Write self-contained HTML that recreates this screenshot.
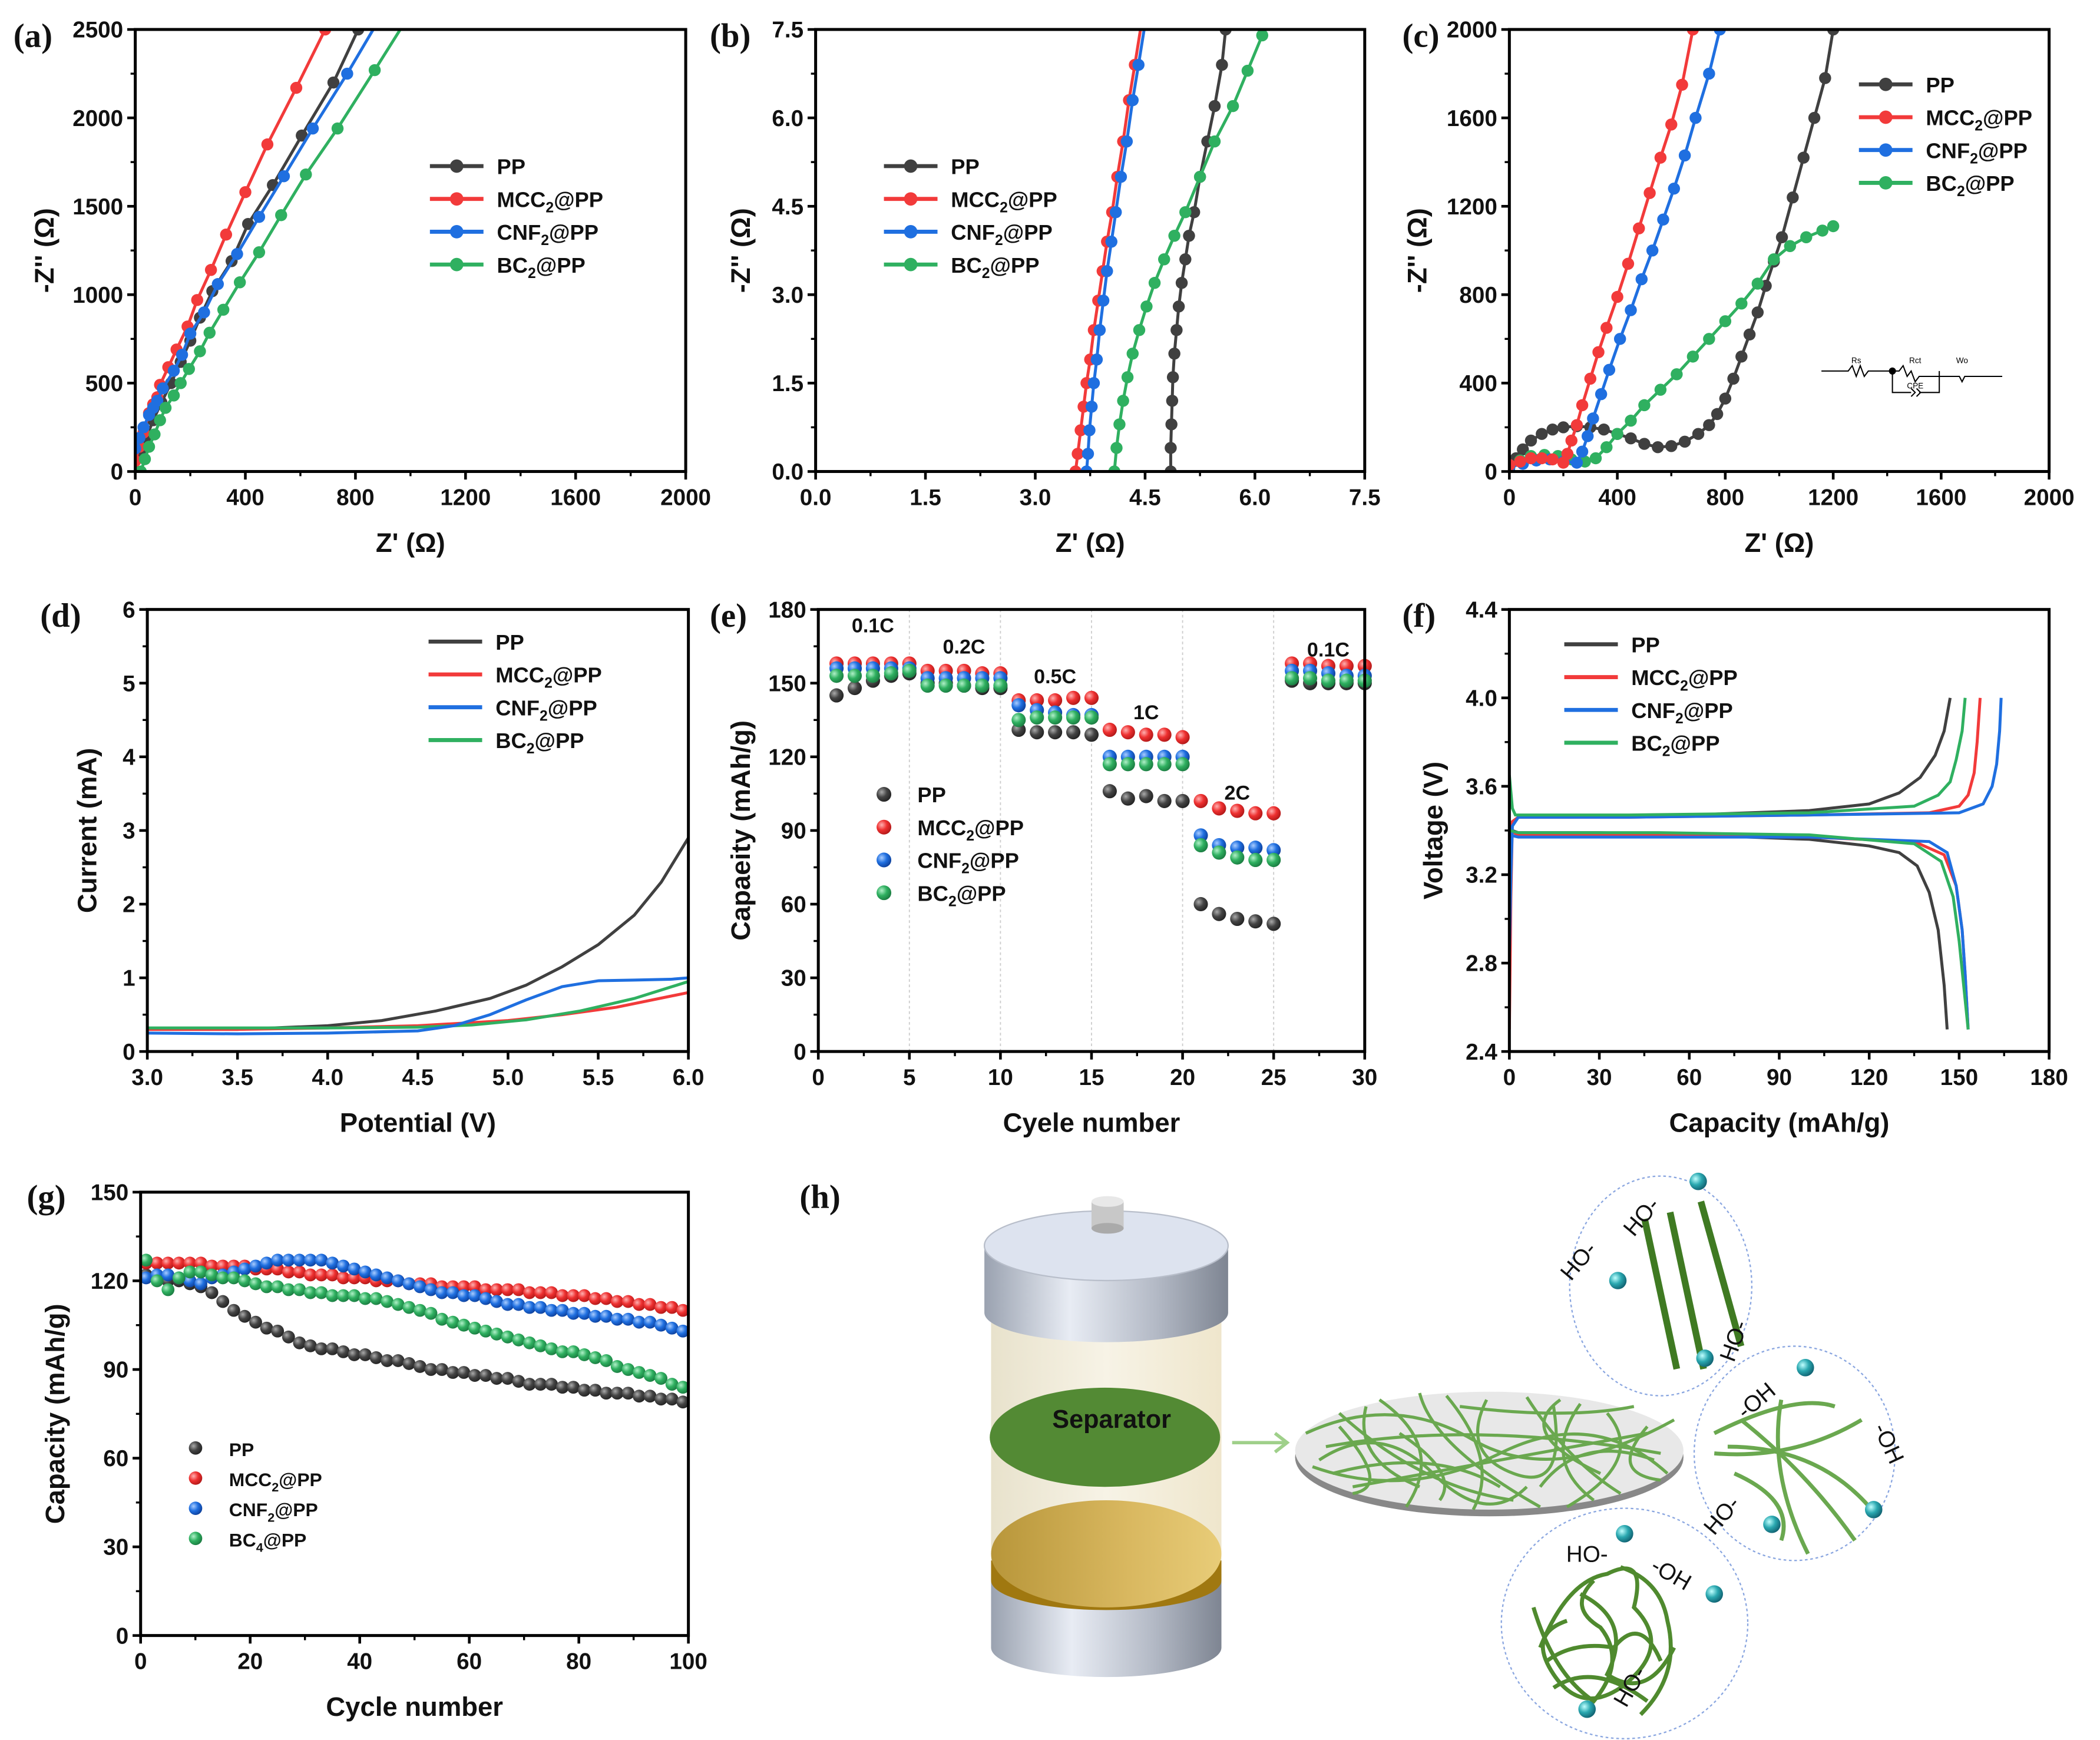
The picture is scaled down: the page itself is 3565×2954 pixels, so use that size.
<!DOCTYPE html>
<html><head><meta charset="utf-8"><style>
html,body{margin:0;padding:0;background:#fff;}
svg{display:block;font-family:"Liberation Sans",sans-serif;}
</style></head><body>
<svg id="fig" xmlns="http://www.w3.org/2000/svg" width="3565" height="2954" viewBox="0 0 1568 1299" preserveAspectRatio="none">
<defs>
<radialGradient id="gPP" cx="0.35" cy="0.35" r="0.7"><stop offset="0" stop-color="#aaa"/><stop offset="0.5" stop-color="#444"/><stop offset="1" stop-color="#222"/></radialGradient>
<radialGradient id="gMCC" cx="0.35" cy="0.35" r="0.7"><stop offset="0" stop-color="#ffb0b0"/><stop offset="0.5" stop-color="#ee3030"/><stop offset="1" stop-color="#b01818"/></radialGradient>
<radialGradient id="gCNF" cx="0.35" cy="0.35" r="0.7"><stop offset="0" stop-color="#a8ccff"/><stop offset="0.5" stop-color="#1f6fe0"/><stop offset="1" stop-color="#0d3f9a"/></radialGradient>
<radialGradient id="gBC" cx="0.35" cy="0.35" r="0.7"><stop offset="0" stop-color="#b0f0c8"/><stop offset="0.5" stop-color="#2fb060"/><stop offset="1" stop-color="#1a7a40"/></radialGradient>
<radialGradient id="gIon" cx="0.35" cy="0.35" r="0.7"><stop offset="0" stop-color="#c0ffff"/><stop offset="0.5" stop-color="#2aa8b0"/><stop offset="1" stop-color="#106070"/></radialGradient>
<linearGradient id="gMetal" x1="0" x2="1"><stop offset="0" stop-color="#9aa2b0"/><stop offset="0.35" stop-color="#e8ecf4"/><stop offset="0.7" stop-color="#b4bac6"/><stop offset="1" stop-color="#7e8592"/></linearGradient>
<linearGradient id="gGlass" x1="0" x2="1"><stop offset="0" stop-color="#e8e2cc"/><stop offset="0.5" stop-color="#f7f3e6"/><stop offset="1" stop-color="#efe6cc"/></linearGradient>
<linearGradient id="gGold" x1="0" x2="1"><stop offset="0" stop-color="#b8963a"/><stop offset="0.6" stop-color="#d9b860"/><stop offset="1" stop-color="#e8cc78"/></linearGradient>
</defs>
<g id="root"></g>
</svg>
<script>
// ---------- DATA ----------
// (a)
const aPPx=[0,20,40,65,95,130,165,200,235,280,350,410,500,605,720,810];
const aPPy=[0,100,190,290,390,500,620,740,870,1020,1190,1400,1620,1900,2200,2500];
const aMCCx=[0,15,30,50,65,80,90,120,150,190,225,275,330,400,480,585,690];
const aMCCy=[60,140,220,330,380,420,490,590,690,820,970,1140,1340,1580,1850,2170,2500];
const aCNFx=[0,15,30,50,65,80,100,140,170,200,250,300,370,450,540,645,770,876];
const aCNFy=[130,190,250,320,360,400,470,570,660,780,900,1060,1230,1440,1670,1940,2250,2530];
const aBCx=[20,35,50,70,90,110,140,165,195,235,270,320,380,450,530,620,735,870,975];
const aBCy=[0,70,140,210,290,360,430,500,580,680,785,915,1070,1240,1450,1680,1940,2270,2530];
// (b)
const bPPx=[4.85,4.85,4.86,4.87,4.88,4.9,4.93,4.96,5.0,5.05,5.1,5.17,5.25,5.35,5.45,5.55,5.6];
const bPPy=[0,0.4,0.8,1.2,1.6,2.0,2.4,2.8,3.2,3.6,4.0,4.4,5.0,5.6,6.2,6.9,7.5];
const bMCCx=[3.55,3.58,3.62,3.66,3.7,3.75,3.8,3.86,3.92,3.98,4.05,4.12,4.2,4.28,4.36,4.45];
const bMCCy=[0,0.3,0.7,1.1,1.5,1.9,2.4,2.9,3.4,3.9,4.4,5.0,5.6,6.3,6.9,7.6];
const bCNFx=[3.7,3.72,3.74,3.77,3.8,3.84,3.88,3.93,3.98,4.04,4.1,4.17,4.25,4.33,4.41,4.5];
const bCNFy=[0,0.3,0.7,1.1,1.5,1.9,2.4,2.9,3.4,3.9,4.4,5.0,5.6,6.3,6.9,7.6];
const bBCx=[4.08,4.11,4.15,4.2,4.26,4.33,4.42,4.52,4.63,4.76,4.9,5.05,5.25,5.45,5.7,5.9,6.1];
const bBCy=[0,0.4,0.8,1.2,1.6,2.0,2.4,2.8,3.2,3.6,4.0,4.4,5.0,5.6,6.2,6.8,7.4];
// (c)
const cPPx=[0,25,50,80,120,160,200,250,300,350,400,450,500,550,600,650,700,740,770,800,830,860,890,920,950,980,1010,1050,1090,1130,1170,1200];
const cPPy=[0,60,100,140,170,190,200,205,200,190,170,150,125,110,115,135,170,210,260,330,420,520,620,720,840,950,1060,1240,1420,1600,1780,2000];
const cMCCx=[0,40,80,120,160,200,215,230,250,270,300,330,360,400,440,480,520,560,600,640,680];
const cMCCy=[30,45,60,60,55,40,80,140,210,300,420,540,650,790,940,1100,1260,1420,1570,1750,2000];
const cCNFx=[0,50,100,150,200,250,270,290,310,340,370,410,450,490,530,570,610,650,690,740,780];
const cCNFy=[20,35,50,55,45,40,90,160,240,350,460,600,730,870,1000,1140,1280,1430,1600,1800,2000];
const cBCx=[0,40,80,130,180,230,280,320,360,400,450,500,560,620,680,740,800,860,920,980,1040,1100,1160,1200];
const cBCy=[20,50,70,75,70,55,45,60,110,170,230,300,370,440,520,600,680,760,850,960,1020,1060,1090,1110];
// (d)
const dPPx=[3.0,3.5,4.0,4.3,4.6,4.9,5.1,5.3,5.5,5.7,5.85,6.0];
const dPPy=[0.3,0.3,0.35,0.42,0.55,0.72,0.9,1.15,1.45,1.85,2.3,2.9];
const dMCCx=[3.0,3.5,4.0,4.5,5.0,5.3,5.6,6.0];
const dMCCy=[0.3,0.3,0.32,0.35,0.42,0.5,0.6,0.8];
const dCNFx=[3.0,3.5,4.0,4.5,4.7,4.9,5.1,5.3,5.5,5.7,5.9,6.0];
const dCNFy=[0.25,0.24,0.25,0.28,0.35,0.5,0.7,0.88,0.96,0.97,0.98,1.0];
const dBCx=[3.0,3.5,4.0,4.5,4.8,5.1,5.4,5.7,6.0];
const dBCy=[0.32,0.32,0.32,0.33,0.36,0.43,0.55,0.72,0.95];
// (e)
const eCycles=[1,2,3,4,5,6,7,8,9,10,11,12,13,14,15,16,17,18,19,20,21,22,23,24,25,26,27,28,29,30];
const ePP=[145,148,151,153,154,150,150,149,148,148,131,130,130,130,129,106,103,104,102,102,60,56,54,53,52,151,150,150,150,150];
const eMCC=[158,158,158,158,158,155,155,155,154,154,143,143,143,144,144,131,130,129,129,128,102,99,98,97,97,158,158,157,157,157];
const eCNF=[156,156,156,156,156,152,152,152,152,152,141,139,138,137,137,120,120,120,120,120,88,84,83,83,82,155,155,154,153,153];
const eBC=[153,153,153,154,155,149,149,149,149,149,135,136,136,136,136,117,117,117,117,117,84,81,79,78,78,152,152,151,151,151];
const eRates=["0.1C","0.2C","0.5C","1C","2C","0.1C"];
// (f)
const fPPcx=[0,0.5,1,3,20,60,100,120,130,137,142,145,147];
const fPPcy=[2.9,3.3,3.44,3.46,3.46,3.47,3.49,3.52,3.57,3.64,3.74,3.85,4.0];
const fPPdx=[0,1,3,30,60,100,120,130,136,140,143,145,146];
const fPPdy=[3.42,3.4,3.39,3.39,3.38,3.36,3.33,3.3,3.24,3.12,2.95,2.7,2.5];
const fMCCcx=[0,0.5,1,3,40,100,140,150,153,155,156,157];
const fMCCcy=[2.5,3.1,3.44,3.46,3.46,3.47,3.48,3.51,3.56,3.66,3.8,4.0];
const fMCCdx=[0,3,50,100,135,145,149,151,152,153];
const fMCCdy=[3.4,3.38,3.38,3.37,3.35,3.29,3.15,2.95,2.75,2.5];
const fCNFcx=[0,0.5,1,3,40,100,150,158,161,162.5,163.5,164];
const fCNFcy=[2.85,3.2,3.42,3.46,3.46,3.47,3.48,3.52,3.6,3.7,3.85,4.0];
const fCNFdx=[0,3,50,100,140,146,149,151,152,153];
const fCNFdy=[3.38,3.37,3.37,3.37,3.35,3.3,3.15,2.95,2.75,2.5];
const fBCcx=[0,1,2,40,100,135,143,147,149,151,152];
const fBCcy=[3.65,3.5,3.47,3.47,3.48,3.51,3.56,3.62,3.72,3.85,4.0];
const fBCdx=[0,3,50,100,135,144,148,150,151.5,153];
const fBCdy=[3.4,3.39,3.39,3.38,3.34,3.26,3.1,2.9,2.7,2.5];
// (g)
const gCycles=[1,3,5,7,9,11,13,15,17,19,21,23,25,27,29,31,33,35,37,39,41,43,45,47,49,51,53,55,57,59,61,63,65,67,69,71,73,75,77,79,81,83,85,87,89,91,93,95,97,99];
const gPP=[122,121,120,120,119,118,116,113,110,108,106,104,103,101,99,98,97,97,96,95,95,94,93,93,92,91,90,90,89,89,88,88,87,87,86,85,85,85,84,84,83,83,82,82,82,81,81,80,80,79];
const gMCC=[126,126,126,126,126,126,125,125,125,125,124,124,124,123,123,122,122,122,121,121,121,120,120,120,119,119,119,118,118,118,118,117,117,117,117,116,116,116,115,115,115,114,114,113,113,112,112,111,111,110];
const gCNF=[121,122,122,121,120,119,121,122,123,124,125,126,127,127,127,127,127,126,125,124,123,122,121,120,119,118,117,116,116,115,115,114,113,112,112,111,111,110,110,109,109,108,108,107,107,106,106,105,104,103];
const gBC=[127,120,117,121,123,123,122,121,121,120,119,118,118,117,117,116,116,115,115,115,114,114,113,112,111,110,109,107,106,105,104,103,102,101,100,99,98,97,96,96,95,94,93,91,90,89,88,87,85,84];

// ---------- helpers ----------
const NS="http://www.w3.org/2000/svg";
const root=document.getElementById('root');
const COL={PP:"#404040",MCC:"#f23a3a",CNF:"#1f6fe0",BC:"#2fb060"};
function el(tag,attrs,parent){const e=document.createElementNS(NS,tag);for(const k in attrs)e.setAttribute(k,attrs[k]);(parent||root).appendChild(e);return e;}
function txt(s,x,y,size,anchor,parent,extra){const t=el('text',Object.assign({x:x,y:y,'font-size':size,'font-weight':'bold','text-anchor':anchor||'middle',fill:'#111'},extra||{}),parent);t.textContent=s;return t;}
function labelSub(parent,x,y,size,base,sub,rest){
  const t=el('text',{x:x,y:y,'font-size':size,'font-weight':'bold',fill:'#111'},parent);
  t.appendChild(document.createTextNode(base));
  if(sub){const s=el('tspan',{dy:4,'font-size':size*0.68},t);s.textContent=sub;const r=el('tspan',{dy:-4},t);r.textContent=rest;}
  return t;
}
function makeAxes(cfg){
  const g=el('g',{});
  
  
  const sx=v=>cfg.x0+(v-cfg.xmin)/(cfg.xmax-cfg.xmin)*(cfg.x1-cfg.x0);
  const sy=v=>cfg.y1-(v-cfg.ymin)/(cfg.ymax-cfg.ymin)*(cfg.y1-cfg.y0);
  const xt=el('g',{},g);
  cfg.xticks.forEach((v,i)=>{const X=sx(v);el('line',{x1:X,x2:X,y1:cfg.y1,y2:cfg.y1+6,stroke:'#000','stroke-width':2},xt);
    txt(cfg.xlabels[i],X,cfg.y1+25,17,'middle',xt);
    if(i<cfg.xticks.length-1){const m=sx((v+cfg.xticks[i+1])/2);el('line',{x1:m,x2:m,y1:cfg.y1,y2:cfg.y1+3.5,stroke:'#000','stroke-width':1.5},xt);}});
  const yt=el('g',{},g);
  cfg.yticks.forEach((v,i)=>{const Y=sy(v);el('line',{x1:cfg.x0-6,x2:cfg.x0,y1:Y,y2:Y,stroke:'#000','stroke-width':2},yt);
    txt(cfg.ylabels[i],cfg.x0-9,Y+6,17,'end',yt);
    if(i<cfg.yticks.length-1){const m=sy((v+cfg.yticks[i+1])/2);el('line',{x1:cfg.x0-3.5,x2:cfg.x0,y1:m,y2:m,stroke:'#000','stroke-width':1.5},yt);}});
  const xtl=txt(cfg.xtitle,(cfg.x0+cfg.x1)/2,cfg.y1+60,20,'middle',g);
  
  const ytl=txt(cfg.ytitle,0,0,20,'middle',g,{transform:`translate(${cfg.ytx},${(cfg.y0+cfg.y1)/2}) rotate(-90)`});
  
  const pl=el('text',{x:cfg.plx,y:cfg.ply,'font-size':25,'font-weight':'bold','font-family':'"Liberation Serif",serif',fill:'#111'},g);
  pl.textContent=cfg.panel;
  
  const plot=el('g',{},g);
  return {g,plot,sx,sy,frame:()=>{const f=el('rect',{x:cfg.x0,y:cfg.y0,width:cfg.x1-cfg.x0,height:cfg.y1-cfg.y0,fill:'none',stroke:'#000','stroke-width':2.2},g);}};
}
function clipFor(id,cfg){const c=el('clipPath',{id:id});el('rect',{x:cfg.x0,y:cfg.y0,width:cfg.x1-cfg.x0,height:cfg.y1-cfg.y0},c);return 'url(#'+id+')';}
function lineSeries(ax,xs,ys,color,name,marker,r,clip){
  const s=el('g',{'clip-path':clip||''},ax.plot);
  
  
  const pts=xs.map((x,i)=>ax.sx(x)+','+ax.sy(ys[i])).join(' ');
  el('polyline',{points:pts,fill:'none',stroke:color,'stroke-width':2.2},s);
  if(marker)xs.forEach((x,i)=>el('circle',{cx:ax.sx(x),cy:ax.sy(ys[i]),r:r||4,fill:color},s));
}
function legendLines(x,y,dy,items,marker,size){
  const g=el('g',{});
  
  
  items.forEach((it,i)=>{const Y=y+i*dy;
    el('line',{x1:x,x2:x+40,y1:Y,y2:Y,stroke:it.c,'stroke-width':3},g);
    if(marker)el('circle',{cx:x+20,cy:Y,r:5,fill:it.c},g);
    labelSub(g,x+50,Y+6,size||16,it.b,it.s,it.r);});
}
function legendDots(x,y,dy,items,size,r){
  const g=el('g',{});
  
  
  items.forEach((it,i)=>{const Y=y+i*dy;
    el('circle',{cx:x,cy:Y,r:r,fill:it.g},g);
    labelSub(g,x+25,Y+6,size,it.b,it.s,it.r);});
}
const LEG=[{c:COL.PP,g:'url(#gPP)',b:'PP'},{c:COL.MCC,g:'url(#gMCC)',b:'MCC',s:'2',r:'@PP'},{c:COL.CNF,g:'url(#gCNF)',b:'CNF',s:'2',r:'@PP'},{c:COL.BC,g:'url(#gBC)',b:'BC',s:'2',r:'@PP'}];

// ---------- (a) ----------
(function(){
 const cfg={name:'panel-a',x0:101,x1:512,y0:22,y1:352,xmin:0,xmax:2000,ymin:0,ymax:2500,
  xticks:[0,400,800,1200,1600,2000],xlabels:['0','400','800','1200','1600','2000'],
  yticks:[0,500,1000,1500,2000,2500],ylabels:['0','500','1000','1500','2000','2500'],
  xtitle:"Z' (Ω)",ytitle:"-Z'' (Ω)",ytx:40,panel:'(a)',plx:10,ply:35};
 const ax=makeAxes(cfg);const cp=clipFor('ca',cfg);
 lineSeries(ax,aPPx,aPPy,COL.PP,'series-pp',true,4.5,cp);
 lineSeries(ax,aMCCx,aMCCy,COL.MCC,'series-mcc2-pp',true,4.5,cp);
 lineSeries(ax,aCNFx,aCNFy,COL.CNF,'series-cnf2-pp',true,4.5,cp);
 lineSeries(ax,aBCx,aBCy,COL.BC,'series-bc2-pp',true,4.5,cp);
 ax.frame();
 legendLines(321,124,24.5,LEG,true,16);
})();
// ---------- (b) ----------
(function(){
 const cfg={name:'panel-b',x0:609,x1:1019,y0:22,y1:352,xmin:0,xmax:7.5,ymin:0,ymax:7.5,
  xticks:[0,1.5,3,4.5,6,7.5],xlabels:['0.0','1.5','3.0','4.5','6.0','7.5'],
  yticks:[0,1.5,3,4.5,6,7.5],ylabels:['0.0','1.5','3.0','4.5','6.0','7.5'],
  xtitle:"Z' (Ω)",ytitle:"-Z'' (Ω)",ytx:560,panel:'(b)',plx:530,ply:35};
 const ax=makeAxes(cfg);const cp=clipFor('cb',cfg);
 lineSeries(ax,bPPx,bPPy,COL.PP,'series-pp',true,4.5,cp);
 lineSeries(ax,bBCx,bBCy,COL.BC,'series-bc2-pp',true,4.5,cp);
 lineSeries(ax,bMCCx,bMCCy,COL.MCC,'series-mcc2-pp',true,4.5,cp);
 lineSeries(ax,bCNFx,bCNFy,COL.CNF,'series-cnf2-pp',true,4.5,cp);
 ax.frame();
 legendLines(660,124,24.5,LEG,true,16);
})();
// ---------- (c) ----------
(function(){
 const cfg={name:'panel-c',x0:1127,x1:1530,y0:22,y1:352,xmin:0,xmax:2000,ymin:0,ymax:2000,
  xticks:[0,400,800,1200,1600,2000],xlabels:['0','400','800','1200','1600','2000'],
  yticks:[0,400,800,1200,1600,2000],ylabels:['0','400','800','1200','1600','2000'],
  xtitle:"Z' (Ω)",ytitle:"-Z'' (Ω)",ytx:1065,panel:'(c)',plx:1047,ply:35};
 const ax=makeAxes(cfg);const cp=clipFor('cc',cfg);
 lineSeries(ax,cPPx,cPPy,COL.PP,'series-pp',true,4.5,cp);
 lineSeries(ax,cBCx,cBCy,COL.BC,'series-bc2-pp',true,4.5,cp);
 lineSeries(ax,cCNFx,cCNFy,COL.CNF,'series-cnf2-pp',true,4.5,cp);
 lineSeries(ax,cMCCx,cMCCy,COL.MCC,'series-mcc2-pp',true,4.5,cp);
 ax.frame();
 legendLines(1388,63,24.5,LEG,true,16);
 const ci=el('g',{stroke:'#000','stroke-width':0.9,fill:'none'});
 
 
 el('path',{d:'M1360 277 H1380 l3 -4 l3 8 l3 -8 l3 8 l3 -4 H1413 M1413 277 H1418 l3 -4 l3 8 l3 -4 l3 8 l3 -4 H1448 H1463 l2 4 l2 -4 H1495 M1413 277 V293 H1427 M1433 293 H1448 V277'},ci);
 el('path',{d:'M1427 290 l3 3 l-3 3 M1431 290 l3 3 l-3 3'},ci);
 el('circle',{cx:1413,cy:277,r:2.2,fill:'#000'},ci);
 [['Rs',1386,271],['Rct',1430,271],['CPE',1430,290],['Wo',1465,271]].forEach(a=>{const t=el('text',{x:a[1],y:a[2],'font-size':6,'text-anchor':'middle',fill:'#000',stroke:'none'},ci);t.textContent=a[0];});
})();
// ---------- (d) ----------
(function(){
 const cfg={name:'panel-d',x0:110,x1:514,y0:455,y1:785,xmin:3,xmax:6,ymin:0,ymax:6,
  xticks:[3,3.5,4,4.5,5,5.5,6],xlabels:['3.0','3.5','4.0','4.5','5.0','5.5','6.0'],
  yticks:[0,1,2,3,4,5,6],ylabels:['0','1','2','3','4','5','6'],
  xtitle:'Potential (V)',ytitle:'Current (mA)',ytx:72,panel:'(d)',plx:30,ply:468};
 const ax=makeAxes(cfg);const cp=clipFor('cd',cfg);
 lineSeries(ax,dPPx,dPPy,COL.PP,'series-pp',false,0,cp);
 lineSeries(ax,dMCCx,dMCCy,COL.MCC,'series-mcc2-pp',false,0,cp);
 lineSeries(ax,dBCx,dBCy,COL.BC,'series-bc2-pp',false,0,cp);
 lineSeries(ax,dCNFx,dCNFy,COL.CNF,'series-cnf2-pp',false,0,cp);
 ax.frame();
 legendLines(320,479,24.5,LEG,false,16);
})();
// ---------- (e) ----------
(function(){
 const cfg={name:'panel-e',x0:611,x1:1019,y0:455,y1:785,xmin:0,xmax:30,ymin:0,ymax:180,
  xticks:[0,5,10,15,20,25,30],xlabels:['0','5','10','15','20','25','30'],
  yticks:[0,30,60,90,120,150,180],ylabels:['0','30','60','90','120','150','180'],
  xtitle:'Cyele number',ytitle:'Capaeity (mAh/g)',ytx:560,panel:'(e)',plx:530,ply:468};
 const ax=makeAxes(cfg);
 [5,10,15,20,25].forEach(v=>{const l=el('line',{x1:ax.sx(v),x2:ax.sx(v),y1:cfg.y0,y2:cfg.y1,stroke:'#ccc','stroke-width':0.8,'stroke-dasharray':'2,2'},ax.plot);
   });
 const ser=[[ePP,'url(#gPP)','series-pp'],[eBC,'url(#gBC)','series-bc2-pp'],[eCNF,'url(#gCNF)','series-cnf2-pp'],[eMCC,'url(#gMCC)','series-mcc2-pp']];
 [ser[0],ser[3],ser[2],ser[1]].forEach(s=>{const g=el('g',{},ax.plot);
   eCycles.forEach((c,i)=>el('circle',{cx:ax.sx(c),cy:ax.sy(s[0][i]),r:5.3,fill:s[1]},g));});
 const rateX=[3,8,13,18,23,28],rateY=[472,488,510,537,597,490];
 eRates.forEach((r,i)=>{const t=txt(r,ax.sx(rateX[i]),rateY[i],15,'middle',ax.g);});
 ax.frame();
 legendDots(660,593,24.5,LEG,16,5.5);
})();
// ---------- (f) ----------
(function(){
 const cfg={name:'panel-f',x0:1127,x1:1530,y0:455,y1:785,xmin:0,xmax:180,ymin:2.4,ymax:4.4,
  xticks:[0,30,60,90,120,150,180],xlabels:['0','30','60','90','120','150','180'],
  yticks:[2.4,2.8,3.2,3.6,4.0,4.4],ylabels:['2.4','2.8','3.2','3.6','4.0','4.4'],
  xtitle:'Capacity (mAh/g)',ytitle:'Voltage (V)',ytx:1077,panel:'(f)',plx:1047,ply:468};
 const ax=makeAxes(cfg);const cp=clipFor('cf',cfg);
 lineSeries(ax,fPPcx,fPPcy,COL.PP,'series-pp-charge',false,0,cp);
 lineSeries(ax,fPPdx,fPPdy,COL.PP,'series-pp-discharge',false,0,cp);
 lineSeries(ax,fMCCcx,fMCCcy,COL.MCC,'series-mcc2-pp-charge',false,0,cp);
 lineSeries(ax,fMCCdx,fMCCdy,COL.MCC,'series-mcc2-pp-discharge',false,0,cp);
 lineSeries(ax,fCNFcx,fCNFcy,COL.CNF,'series-cnf2-pp-charge',false,0,cp);
 lineSeries(ax,fCNFdx,fCNFdy,COL.CNF,'series-cnf2-pp-discharge',false,0,cp);
 lineSeries(ax,fBCcx,fBCcy,COL.BC,'series-bc2-pp-charge',false,0,cp);
 lineSeries(ax,fBCdx,fBCdy,COL.BC,'series-bc2-pp-discharge',false,0,cp);
 ax.frame();
 legendLines(1168,481,24.5,LEG,false,16);
})();
// ---------- (g) ----------
(function(){
 const cfg={name:'panel-g',x0:105,x1:514,y0:890,y1:1221,xmin:0,xmax:100,ymin:0,ymax:150,
  xticks:[0,20,40,60,80,100],xlabels:['0','20','40','60','80','100'],
  yticks:[0,30,60,90,120,150],ylabels:['0','30','60','90','120','150'],
  xtitle:'Cycle number',ytitle:'Capacity (mAh/g)',ytx:48,panel:'(g)',plx:20,ply:902};
 const ax=makeAxes(cfg);
 const ser=[[gPP,'url(#gPP)','series-pp'],[gMCC,'url(#gMCC)','series-mcc2-pp'],[gCNF,'url(#gCNF)','series-cnf2-pp'],[gBC,'url(#gBC)','series-bc2-pp']];
 ser.forEach(s=>{const g=el('g',{},ax.plot);
   gCycles.forEach((c,i)=>el('circle',{cx:ax.sx(c),cy:ax.sy(s[0][i]),r:4.8,fill:s[1]},g));});
 ax.frame();
 const L=[LEG[0],LEG[1],LEG[2],{g:'url(#gBC)',b:'BC',s:'4',r:'@PP'}];
 legendDots(146,1081,22.5,L,14,5);
})();
// ---------- (h) ----------
(function(){
 const g=el('g',{});
 
 
 const pl=el('text',{x:597,y:902,'font-size':25,'font-weight':'bold','font-family':'"Liberation Serif",serif',fill:'#111'},g);pl.textContent='(h)';
 
 const b=el('g',{},g);
 el('rect',{x:740,y:955,width:172,height:240,fill:'url(#gGlass)'},b);
 el('path',{d:'M740 1175 V1230 A86 22 0 0 0 912 1230 V1175 Z',fill:'url(#gMetal)'},b);
 el('path',{d:'M740 1165 V1180 A86 22 0 0 0 912 1180 V1165 Z',fill:'#a07810'},b);
 el('ellipse',{cx:826,cy:1160,rx:86,ry:40,fill:'url(#gGold)'},b);
 el('path',{d:'M735 930 V980 A91 22 0 0 0 917 980 V930 Z',fill:'url(#gMetal)'},b);
 el('ellipse',{cx:826,cy:930,rx:91,ry:26,fill:'#dde3ef',stroke:'#b8beca','stroke-width':1},b);
 el('rect',{x:815,y:897,width:24,height:20,fill:'#c8c8c8'},b);
 el('ellipse',{cx:827,cy:917,rx:12,ry:4,fill:'#aaa'},b);
 el('ellipse',{cx:827,cy:897,rx:12,ry:4,fill:'#e8e8e8'},b);
 const sep=el('ellipse',{cx:825,cy:1073,rx:86,ry:37,fill:'#538a34'},b);
 
 const st=el('text',{x:830,y:1066,'font-size':19,'font-weight':'bold','text-anchor':'middle',fill:'#111'},b);st.textContent='Separator';
 
 const ar=el('path',{d:'M920 1077 H960 M952 1070 L961 1077 L952 1084',stroke:'#9fd08a','stroke-width':2.5,fill:'none'},g);
 
 const m=el('g',{},g);
 el('ellipse',{cx:1112,cy:1088,rx:145,ry:44,fill:'#888'},m);
 el('ellipse',{cx:1112,cy:1083,rx:145,ry:44,fill:'#e8e8e8'},m);
 const fib=['M975 1070 Q1040 1040 1100 1075 T1250 1060','M980 1095 Q1050 1120 1120 1085 T1245 1100','M1000 1055 Q1060 1110 1130 1120','M1030 1045 Q1080 1080 1050 1125','M1080 1042 Q1120 1090 1100 1127','M1140 1043 Q1170 1090 1210 1115','M1180 1048 Q1150 1090 1190 1120','M990 1080 Q1100 1060 1240 1085','M1010 1110 Q1120 1090 1230 1070','M1060 1040 Q1070 1080 1150 1125','M1200 1055 Q1230 1090 1170 1125','M1000 1065 Q1040 1110 1010 1115','M1230 1065 Q1200 1100 1240 1105','M1090 1050 Q1170 1060 1220 1050',
  'M985 1090 Q1030 1060 1070 1100 T1140 1110','M1020 1050 Q1010 1090 1060 1110','M1110 1045 Q1090 1085 1130 1100 T1160 1050','M1150 1110 Q1180 1070 1235 1090','M1045 1070 Q1090 1100 1075 1120','M1165 1045 Q1130 1070 1195 1100','M995 1100 Q1070 1080 1120 1110'];
 fib.forEach(d=>el('path',{d:d,stroke:'#6aa84f','stroke-width':2.3,fill:'none'},m));
 const circ=[[1240,960,68,82],[1340,1085,75,80],[1213,1212,92,86]];
 circ.forEach((c,i)=>{const z=el('g',{},g);
   el('ellipse',{cx:c[0],cy:c[1],rx:c[2],ry:c[3],fill:'#fff','fill-opacity':0.6,stroke:'#8aa6e0','stroke-width':1,'stroke-dasharray':'2,2'},z);});
 const z1=el('g',{stroke:'#3f7a22','stroke-width':5},g);
 [[1228,910,1252,1022],[1247,905,1272,1022],[1270,897,1300,1005]].forEach(l=>el('line',{x1:l[0],y1:l[1],x2:l[2],y2:l[3]},z1));
 const z2=el('g',{stroke:'#6aa84f','stroke-width':3,fill:'none'},g);
 ['M1280 1070 Q1340 1040 1370 1050','M1280 1085 Q1340 1090 1390 1060','M1330 1045 Q1320 1100 1350 1160','M1290 1080 Q1360 1080 1400 1130','M1295 1100 Q1340 1120 1330 1150','M1300 1060 Q1350 1100 1385 1150'].forEach(d=>el('path',{d:d},z2));
 const z3=el('g',{stroke:'#4f8a2e','stroke-width':3,fill:'none'},g);
 ['M1150 1230 Q1170 1180 1200 1175 Q1230 1160 1220 1200 Q1250 1230 1210 1260 Q1180 1280 1160 1250 Q1140 1220 1170 1210','M1180 1190 Q1220 1210 1200 1250 Q1230 1270 1250 1230','M1160 1260 Q1190 1240 1230 1270','M1145 1200 Q1160 1250 1190 1270 Q1215 1240 1195 1215 Q1170 1200 1190 1180','M1210 1170 Q1240 1180 1245 1210 Q1255 1250 1225 1280','M1155 1240 Q1175 1225 1205 1230 Q1225 1205 1240 1240'].forEach(d=>el('path',{d:d},z3));
 [[1268,882],[1208,956],[1273,1014],[1348,1021],[1323,1138],[1399,1127],[1213,1145],[1280,1190],[1185,1276]].forEach(p=>{const c=el('circle',{cx:p[0],cy:p[1],r:6.5,fill:'url(#gIon)'},g);});
 [['HO-',1230,912,-50],['HO-',1183,945,-50],['HO-',1300,1003,-70],['-OH',1315,1050,-40],['-OH',1405,1080,65],['HO-',1290,1135,-50],['HO-',1185,1166,0],['-OH',1245,1180,30],['HO-',1222,1262,-60]].forEach(a=>{
   const t=el('text',{x:a[1],y:a[2],'font-size':17,fill:'#111','text-anchor':'middle',transform:`rotate(${a[3]} ${a[1]} ${a[2]})`},g);t.textContent=a[0];
   });
})();
</script>
</body></html>
